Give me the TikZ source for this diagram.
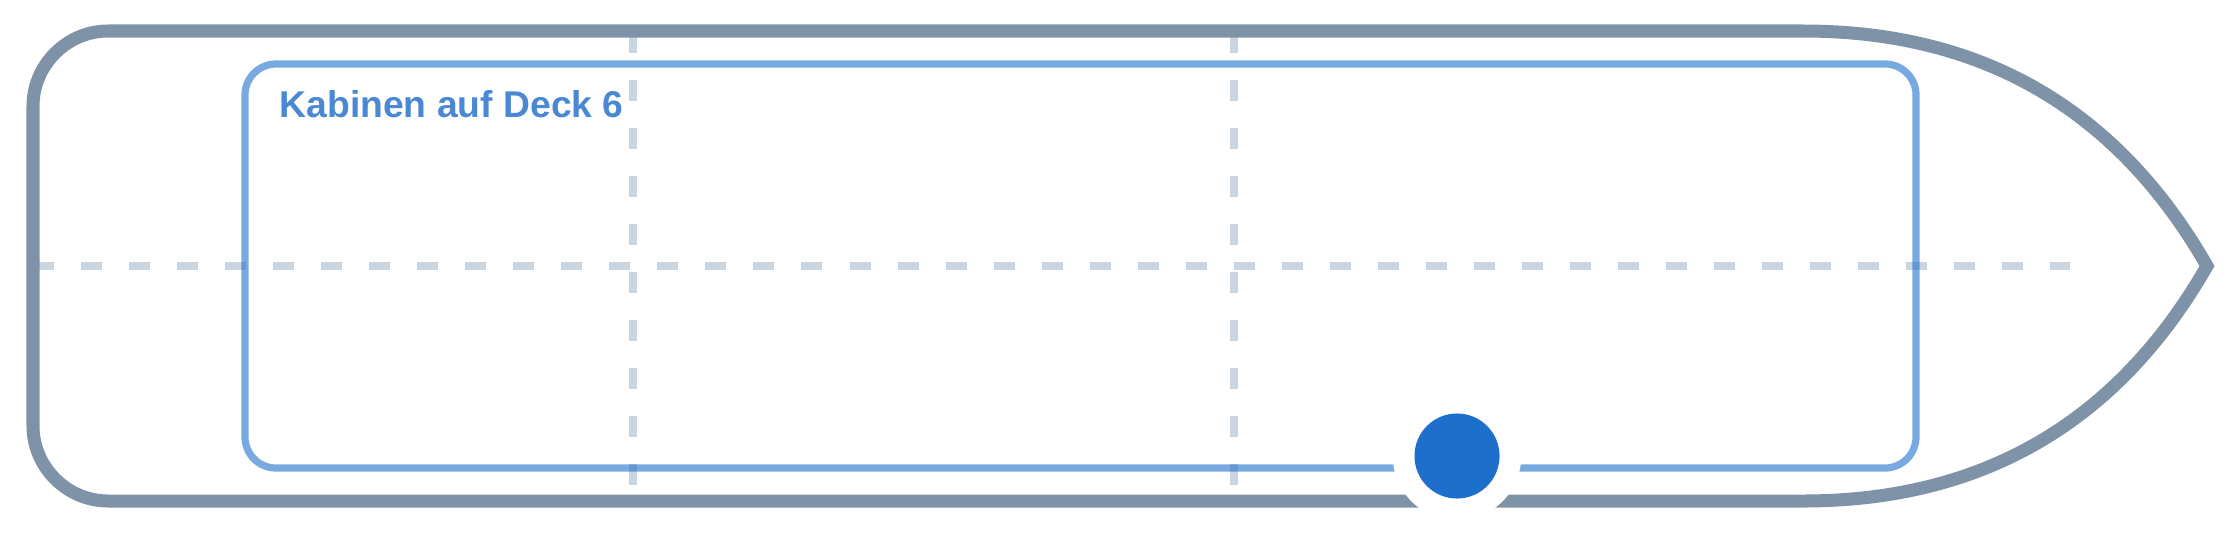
\documentclass[tikz,border=0pt]{standalone}
\usepackage{fontspec}
\newfontfamily\decklabelfont{Liberation Sans}
\definecolor{hullgray}{HTML}{7F93A8}
\definecolor{gridgray}{HTML}{C9D5E1}
\definecolor{deckblue}{HTML}{1E6FCC}
\definecolor{textblue}{HTML}{4A88D4}
\tikzset{
  hull/.style={draw=hullgray, line width=0.13cm},
  cabins/.style={draw=deckblue, draw opacity=0.6, line width=0.072cm, rounded corners=0.31cm},
  gridline/.style={draw=gridgray, line width=0.08cm, dash pattern=on 0.21cm off 0.27cm},
}
\begin{document}
\begin{tikzpicture}[x=0.01cm, y=-0.01cm] %Deck 6
            \useasboundingbox (0,0) rectangle (2240,533);

            \coordinate (L) at (33,266);
            \coordinate (R) at (2070,266);
            \coordinate (T1) at (633,32);
            \coordinate (B1) at (633,486);
            \coordinate (T2) at (1234,32);
            \coordinate (B2) at (1234,486);

            \draw[gridline] (L) -- (R);
            \draw[gridline] (T1) -- (B1);
            \draw[gridline] (T2) -- (B2);

            \coordinate (S) at (2207,266);
            \draw[hull] (1803,31) -- (108,31) .. controls (67,31) and (33,65) .. (33,106)
                -- (33,426) .. controls (33,467) and (67,501) .. (108,501)
                -- (1803,501) .. controls (1982,501) and (2117,423) .. (S)
                .. controls (2117,109) and (1982,31) .. (1803,31) -- cycle;

            \coordinate (A) at (245,64);
            \coordinate (B) at (1916,468);
            \draw[cabins] (A) rectangle (B);

            \node[anchor=base west, inner sep=0pt, text=textblue,
                  font=\decklabelfont\fontsize{10.6}{12}\selectfont\bfseries] (title) at (279,117) {Kabinen auf Deck 6};

            \coordinate (P) at (1457,456);
            \filldraw[white] (P) circle (0.635cm);
            \fill[deckblue] (P) circle (0.425cm);
\end{tikzpicture}
\end{document}
